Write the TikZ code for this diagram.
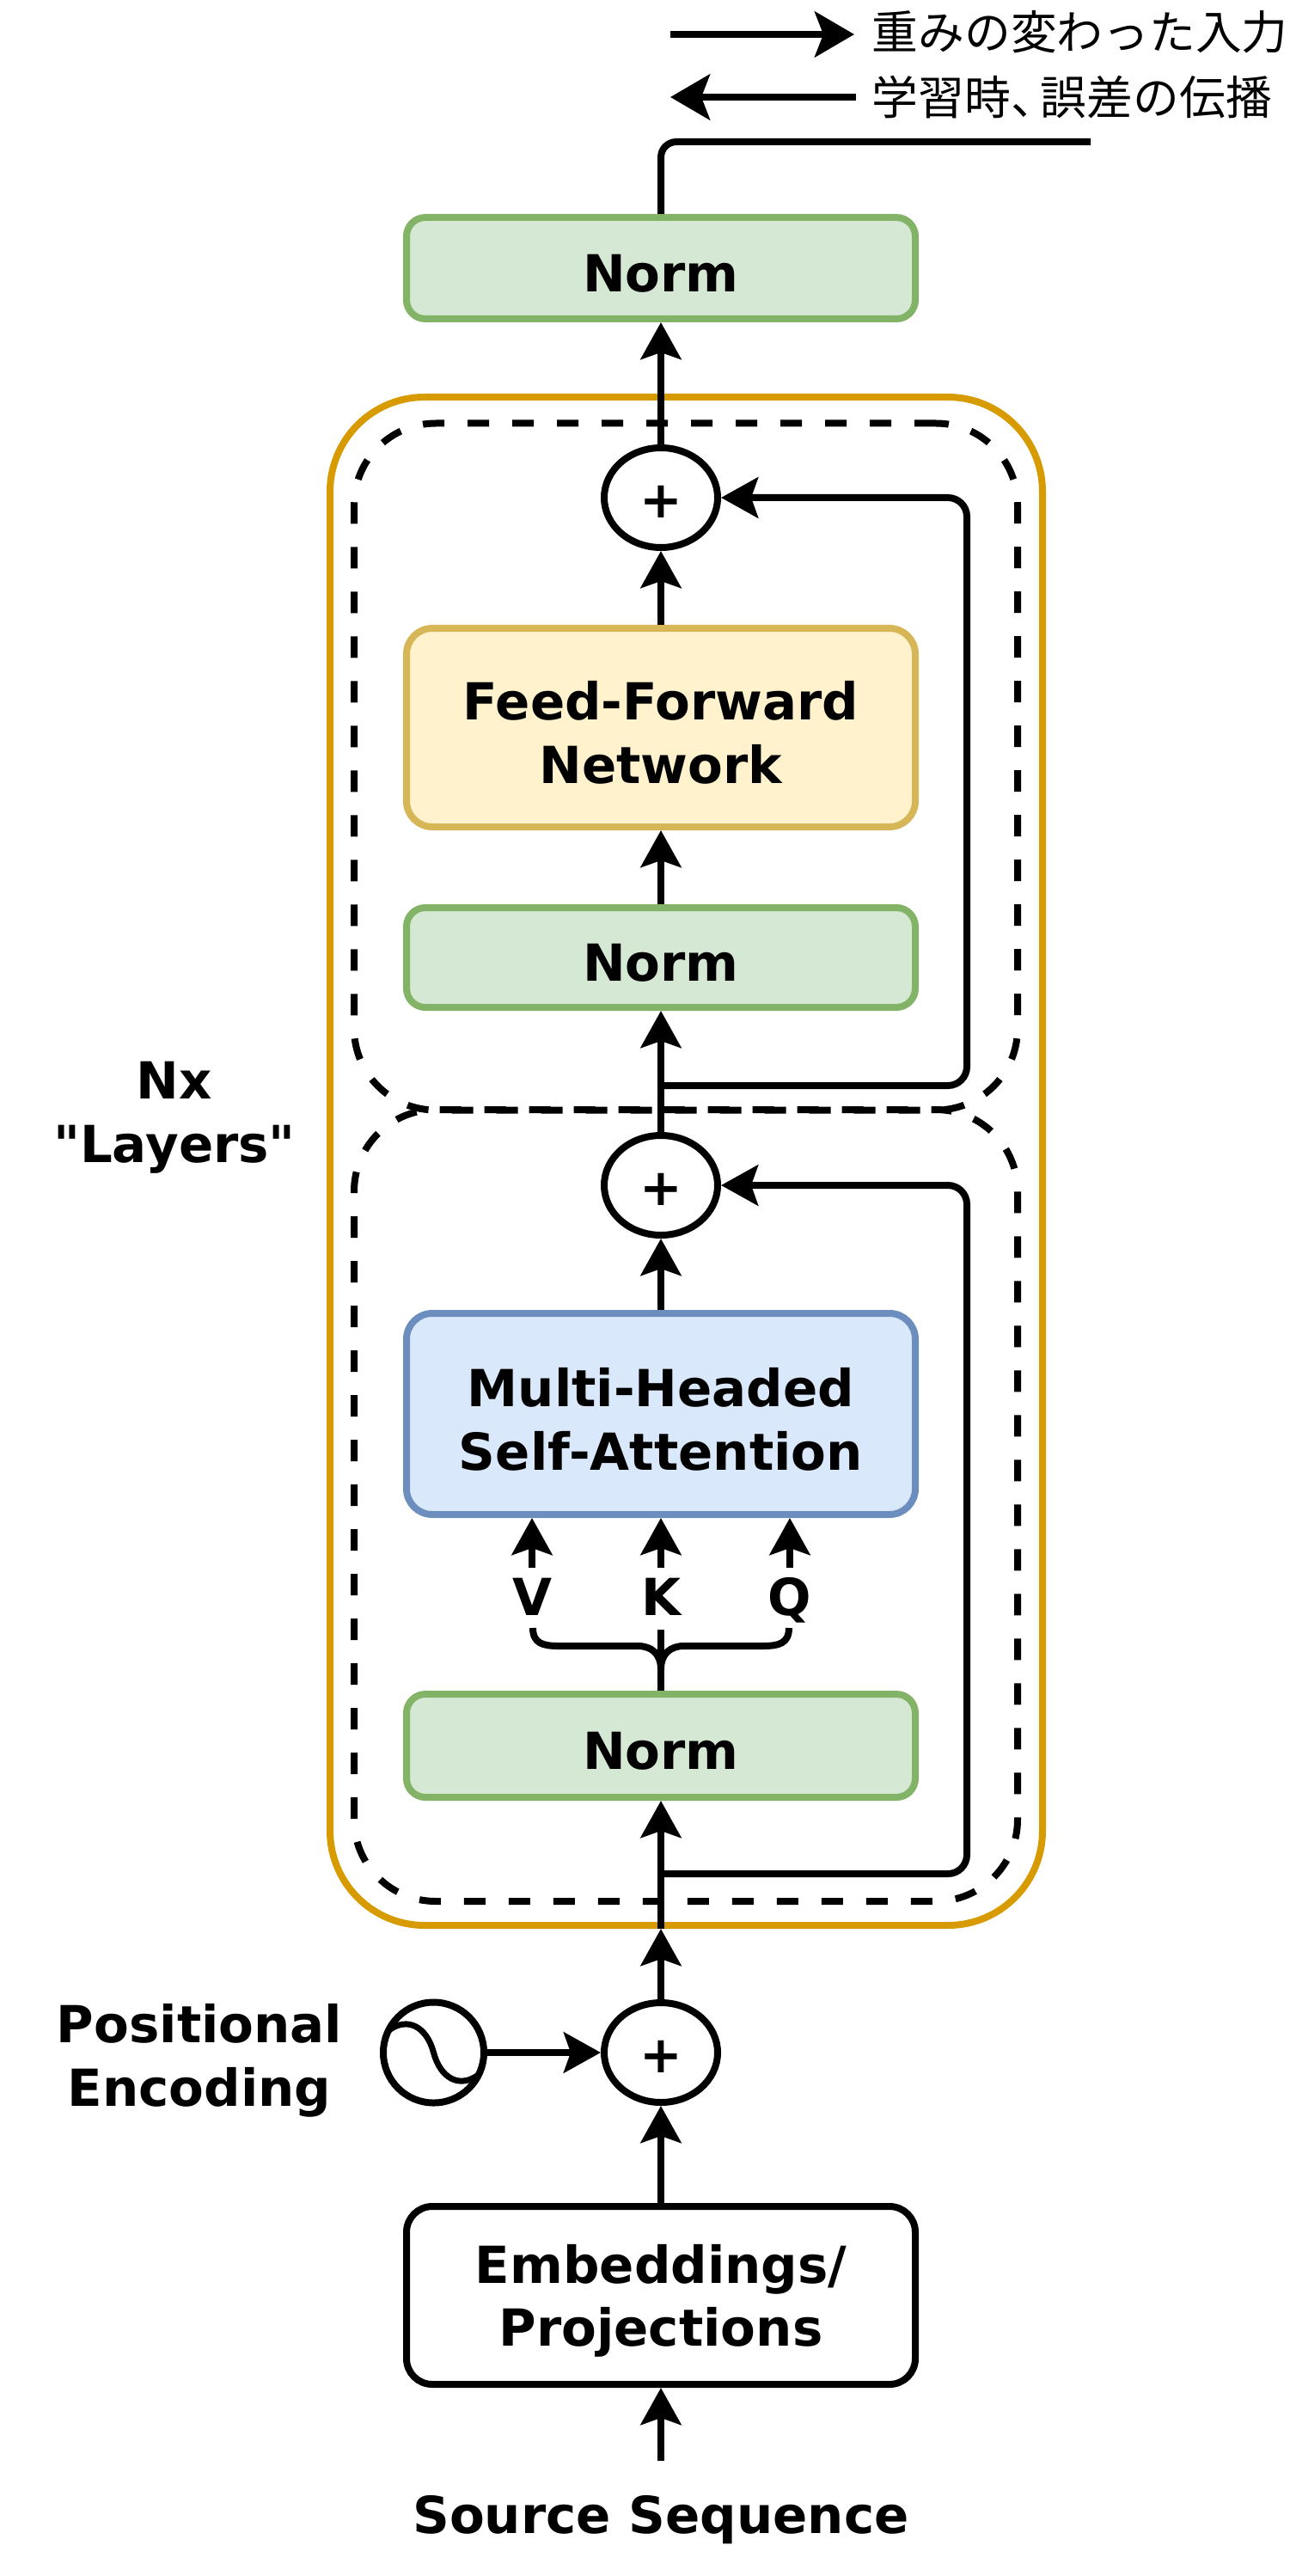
\documentclass[tikz,border=0pt]{standalone}
\usepackage{fontspec}
\setmainfont{DejaVu Sans}[Ligatures=TeXOff]
\newfontfamily\cjk{Noto Sans CJK JP}
\usetikzlibrary{positioning,arrows.meta,shapes.geometric}

\definecolor{normfill}{HTML}{D5E8D4}
\definecolor{normline}{HTML}{82B366}
\definecolor{ffnfill}{HTML}{FFF2CC}
\definecolor{ffnline}{HTML}{D6B656}
\definecolor{attnfill}{HTML}{DAE8FC}
\definecolor{attnline}{HTML}{6C8EBF}
\definecolor{layerline}{HTML}{D79B00}
\newcommand{\firstline}{\rule{0pt}{0.97em}}

\begin{document}
\begin{tikzpicture}[
    font=\bfseries\fontsize{16.9pt}{21pt}\selectfont,
    block/.style={draw,rectangle,rounded corners=0.3cm,align=center,line width=0.08cm,
                  minimum width=5.92cm,inner sep=0pt},
    norm/.style={block,draw=normline,fill=normfill,rounded corners=0.22cm,
                 execute at begin node={\rule{0pt}{0.95em}}},
    sum/.style={draw,ellipse,line width=0.08cm,inner sep=0pt,
                minimum width=1.32cm,minimum height=1.16cm},
    sublayer/.style={draw,rectangle,dash pattern=on 0.25cm off 0.27cm,rounded corners=0.95cm,
                     line width=0.08cm,minimum width=7.72cm},
    wire/.style={line width=0.08cm},
    edge/.style={wire,-{Stealth[length=0.43cm,width=0.47cm,inset=0.08cm]}},
    legend/.style={wire,-{Stealth[length=0.46cm,width=0.53cm,inset=0.1cm]}},
    caption/.style={inner sep=0pt,align=center},
    letter/.style={inner sep=0pt,text height=0.41cm,text depth=0pt},
    legendtext/.style={font=\cjk\fontsize{15.3pt}{18pt}\selectfont,anchor=west,inner sep=0pt}
]
  \useasboundingbox (0,0) rectangle (15,-29.97);

  % frames behind everything
  \node[draw=layerline,rectangle,line width=0.08cm,rounded corners=1.1cm,
        minimum width=8.29cm,minimum height=17.78cm] (layers) at (7.985,-13.51) {};
  \node[sublayer,minimum height=7.99cm] (upper) at (7.98,-8.92) {};
  \node[sublayer,dash phase=0.196cm,minimum height=9.21cm] (lower) at (7.98,-17.515) {};

  % main column, bottom to top
  \node[block,minimum height=2.07cm] (embed) at (7.69,-26.705) {\firstline Embeddings/\\Projections};
  \node[caption,below=1.25cm of embed] (source) {Source Sequence};
  \node[sum,above=1.13cm of embed] (plus3) {\rule{0pt}{0.8em}+};
  \node[norm,above=2.31cm of plus3,minimum height=1.2cm] (norm3) {Norm};
  \node[letter,above=0.87cm of norm3] (klabel) {K};
  \node[letter] (vlabel) at ([xshift=-1.5cm]klabel) {V};
  \node[letter] (qlabel) at ([xshift=1.5cm]klabel) {Q};
  \node[block,draw=attnline,fill=attnfill,above=2.01cm of norm3,minimum height=2.34cm] (attn) {\firstline Multi-Headed\\Self-Attention};
  \node[sum,above=0.83cm of attn] (plus2) {\rule{0pt}{0.8em}+};
  \node[norm,above=1.41cm of plus2,minimum height=1.16cm] (norm2) {Norm};
  \node[block,draw=ffnline,fill=ffnfill,above=0.86cm of norm2,minimum height=2.31cm] (ffn) {\firstline Feed-Forward\\Network};
  \node[sum,above=0.86cm of ffn] (plus1) {\rule{0pt}{0.8em}+};
  \node[norm,above=1.42cm of plus1,minimum height=1.18cm] (normtop) {Norm};

  \node[sum,left=1.32cm of plus3,minimum width=1.17cm,minimum height=1.17cm] (wave) {};
  \node[caption,left=0.43cm of wave,yshift=-0.09cm] (poslabel) {Positional\\Encoding};
  \node[caption] (nxlabel) at (2.03,-13.0) {Nx\\"Layers"};

  % legend
  \node[legendtext] (legfwd) at (10.14,-0.37) {重みの変わった入力};
  \node[legendtext] (legback) at (10.14,-1.13) {学習時、\hspace{-0.35em}誤差の伝播};
  \coordinate (fwdstart) at (7.8,-0.4);
  \coordinate (fwdend) at (9.94,-0.4);
  \coordinate (backstart) at (9.96,-1.13);
  \coordinate (backend) at (7.8,-1.13);
  \draw[legend] (fwdstart) -- (fwdend);
  \draw[legend] (backstart) -- (backend);

  % way out
  \coordinate (topend) at (12.69,-1.65);
  \draw[wire,rounded corners=0.18cm] (normtop.north) |- (topend);

  % column arrows
  \coordinate (entry) at (layers.south -| plus3);
  \draw[edge,shorten <=0.4cm] (source) -- (embed);
  \draw[edge] (embed) -- (plus3);
  \draw[edge] (wave) -- (plus3);
  \draw[edge] (plus3) -- (entry);
  \draw[edge] (entry) -- (norm3);
  \draw[edge] (attn) -- (plus2);
  \draw[edge] (plus2) -- (norm2);
  \draw[edge] (norm2) -- (ffn);
  \draw[edge] (ffn) -- (plus1);
  \draw[edge] (plus1) -- (normtop);

  % residual paths
  \coordinate (skipa) at (7.69,-21.8);
  \coordinate (raila) at (11.25,-21.8);
  \coordinate (skipb) at (7.69,-12.63);
  \coordinate (railb) at (11.25,-12.63);
  \draw[edge,rounded corners=0.22cm] (skipa) -- (raila) |- (plus2.east);
  \draw[edge,rounded corners=0.22cm] (skipb) -- (railb) |- (plus1.east);

  % query, key, value
  \draw[edge,shorten <=0.14cm] (vlabel) -- (vlabel |- attn.south);
  \draw[edge,shorten <=0.14cm] (klabel) -- (attn);
  \draw[edge,shorten <=0.14cm] (qlabel) -- (qlabel |- attn.south);
  \coordinate (bracel) at (6.2,-18.94);
  \coordinate (bracer) at (9.18,-18.94);
  \coordinate (bracek) at (7.69,-18.96);
  \draw[wire] (norm3) -- (bracek);
  \draw[wire] (bracel) .. controls (6.2,-19.12) and (6.32,-19.15) .. (6.5,-19.15) -- (7.42,-19.15)
    .. controls (7.58,-19.15) and (7.69,-19.24) .. (7.69,-19.42);
  \draw[wire] (bracer) .. controls (9.18,-19.12) and (9.06,-19.15) .. (8.88,-19.15) -- (7.96,-19.15)
    .. controls (7.8,-19.15) and (7.69,-19.24) .. (7.69,-19.42);

  % sine in the encoding circle
  \draw[line width=0.07cm] ([shift={(-0.52,0.26)}]wave.center)
    .. controls ([shift={(-0.3,0.42)}]wave.center) and ([shift={(-0.08,0.3)}]wave.center) .. (wave.center)
    .. controls ([shift={(0.08,-0.3)}]wave.center) and ([shift={(0.3,-0.42)}]wave.center) .. ([shift={(0.52,-0.26)}]wave.center);
\end{tikzpicture}
\end{document}
